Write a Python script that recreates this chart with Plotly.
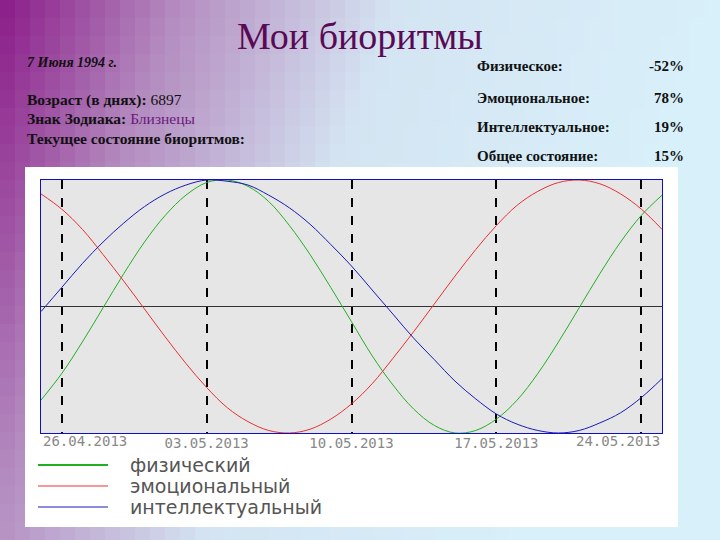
import plotly.graph_objects as go

dates = ["2013-04-%02d" % d for d in range(25, 31)] + ["2013-05-%02d" % d for d in range(1, 26)]
physical = [-0.74,-0.53,-0.28,-0.01,0.26,0.51,0.72,0.88,0.98,1.00,0.95,0.83,0.64,0.41,0.15,-0.12,
            -0.39,-0.62,-0.81,-0.94,-1.00,-0.98,-0.89,-0.74,-0.53,-0.28,-0.01,0.26,0.51,0.72,0.88]
emotional = [0.89,0.77,0.61,0.41,0.20,-0.02,-0.24,-0.45,-0.64,-0.80,-0.91,-0.98,-1.00,-0.97,-0.89,-0.77,
             -0.61,-0.41,-0.20,0.02,0.24,0.45,0.64,0.80,0.91,0.98,1.00,0.97,0.89,0.77,0.61]
intellectual = [-0.04,0.15,0.34,0.51,0.66,0.79,0.89,0.96,1.00,0.99,0.96,0.88,0.78,0.65,0.49,0.32,
                0.13,-0.06,-0.25,-0.42,-0.59,-0.73,-0.85,-0.93,-0.98,-1.00,-0.98,-0.92,-0.84,-0.72,-0.57]
tick_vals = ["2013-04-26", "2013-05-03", "2013-05-10", "2013-05-17", "2013-05-24"]
tick_text = ["26.04.2013", "03.05.2013", "10.05.2013", "17.05.2013", "24.05.2013"]
legend_names = ["физический", "эмоциональный", "интеллектуальный"]
colors = ["#22b022", "#e83030", "#1a1ab8"]

W, H = 720, 540
fig = go.Figure()
for name, vals, c in zip(legend_names, [physical, emotional, intellectual], colors):
    fig.add_trace(go.Scatter(x=dates, y=vals, mode="lines", line=dict(color=c, width=1, shape="spline"),
                             name=name, showlegend=False))

def px(x): return x / W
def py(y): return 1 - y / H

stops = [(0.0, (138, 26, 136)), (0.25, (180, 140, 192)), (0.55, (212, 228, 242)), (1.0, (216, 240, 250))]
def col(t):
    t = max(0.0, min(1.0, t))
    for (a, ca), (b, cb) in zip(stops, stops[1:]):
        if t <= b:
            f = (t - a) / (b - a)
            return "rgb(%d,%d,%d)" % tuple(round(ca[k] + (cb[k] - ca[k]) * f) for k in range(3))
    return "rgb(216,240,250)"

shapes = []
NX, NY = 48, 30
for i in range(NX):
    for j in range(NY):
        gx = (i + 0.5) / NX
        gy = (j + 0.5) / NY
        t = (gx * 1.3 + gy * 0.35) / 1.3
        shapes.append(dict(type="rect", xref="paper", yref="paper", x0=i / NX, x1=(i + 1) / NX + 0.001,
                           y0=1 - (j + 1) / NY - 0.001, y1=1 - j / NY, fillcolor=col(t), line=dict(width=0), layer="below"))
shapes.append(dict(type="rect", xref="paper", yref="paper", x0=px(25), x1=px(678), y0=py(527), y1=py(167),
                   fillcolor="white", line=dict(width=0), layer="below"))
shapes.append(dict(type="rect", xref="x domain", yref="y domain", x0=0, x1=1, y0=0, y1=1,
                   fillcolor="#e6e6e6", line=dict(width=0), layer="below"))
annotations = []
for i, (name, c) in enumerate(zip(legend_names, colors)):
    yy = 465 + i * 21
    shapes.append(dict(type="line", xref="paper", yref="paper", x0=px(38), x1=px(108), y0=py(yy), y1=py(yy),
                       line=dict(color=c, width=2 if i == 0 else 1)))
    annotations.append(dict(x=px(128), y=py(yy), xref="paper", text=name, xanchor="left",
                            font=dict(family="DejaVu Sans", size=19, color="#555")))

tickfont = dict(family="DejaVu Sans Mono", size=14, color="#888")
annotations.append(dict(x=0, xref="x domain", y=py(441), text=tick_text[0], xanchor="left", font=tickfont))
annotations.append(dict(x=1, xref="x domain", y=py(441), text=tick_text[-1], xanchor="right", font=tickfont))
axis_text = [""] + tick_text[1:-1] + [""]

serif = "Liberation Serif"
annotations += [
    dict(x=px(360), y=py(36), xanchor="center", text="Мои биоритмы", font=dict(family=serif, size=38, color="#5a0a55")),
    dict(x=px(25), y=py(62), xanchor="left", text="<b><i>7 Июня 1994 г.</i></b>", font=dict(family=serif, size=14, color="#111")),
    dict(x=px(25), y=py(100), xanchor="left", text="<b>Возраст (в днях):</b> 6897", font=dict(family=serif, size=15.5, color="#111")),
    dict(x=px(25), y=py(119), xanchor="left", text="<b>Знак Зодиака:</b> <span style='color:#6a1a7a'>Близнецы</span>", font=dict(family=serif, size=15.5, color="#111")),
    dict(x=px(25), y=py(138), xanchor="left", text="<b>Текущее состояние биоритмов:</b>", font=dict(family=serif, size=15.5, color="#111")),
]
right = [("Физическое:", "-52%", 66), ("Эмоциональное:", "78%", 98), ("Интеллектуальное:", "19%", 127), ("Общее состояние:", "15%", 156)]
for lab, val, yy in right:
    annotations.append(dict(x=px(475), y=py(yy), xanchor="left", text="<b>" + lab + "</b>", font=dict(family=serif, size=15, color="#111")))
    annotations.append(dict(x=px(686), y=py(yy), xanchor="right", text="<b>" + val + "</b>", font=dict(family=serif, size=15, color="#111")))
for a in annotations:
    a.setdefault("xref", "paper")
    a.update(yref="paper", showarrow=False, yanchor="middle")

fig.update_layout(
    width=W, height=H, autosize=False, margin=dict(l=0, r=0, t=0, b=0, pad=0), paper_bgcolor="white", plot_bgcolor="#e6e6e6",
    shapes=shapes, annotations=annotations, showlegend=False,
    xaxis=dict(domain=[px(41), px(662)], type="date", range=["2013-04-25", "2013-05-25"],
               tickvals=tick_vals, ticktext=axis_text, showgrid=True, gridcolor="black", griddash="dash",
               gridwidth=1.5, ticks="", showline=True, linecolor="#1010c0", mirror=True, zeroline=False,
               automargin=False, tickfont=tickfont, ticklabelstandoff=-3),
    yaxis=dict(domain=[py(433), py(180)], range=[-1, 1], showticklabels=False, showgrid=False, automargin=False,
               zeroline=True, zerolinecolor="#333", zerolinewidth=1, showline=True, linecolor="#1010c0", mirror=True),
)
fig.write_html("out.html", config={"responsive": False, "displayModeBar": False},
               default_width="720px", default_height="540px",
               post_script="document.body.style.margin='0';document.body.style.overflow='hidden';")
